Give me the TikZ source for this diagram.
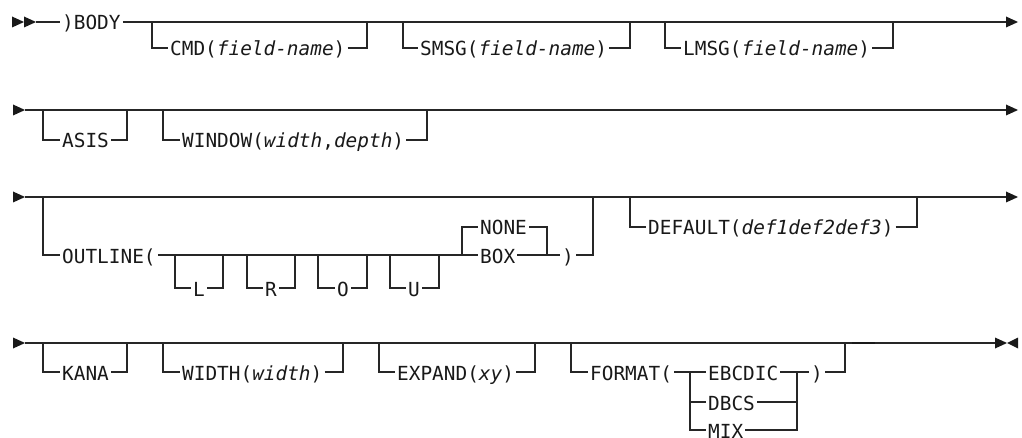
\documentclass[tikz,border=0pt]{standalone}
\usepackage{fontspec}
\setmonofont{DejaVu Sans Mono}
\tikzset{
  rr/.style={draw=black!85, line width=1.2pt},
  lbl/.style={inner xsep=2pt, inner ysep=0pt, text height=16pt, text depth=0pt,
    font=\fontsize{19.4}{20}\selectfont\ttfamily, text=black!90, anchor=west},
  tip/.style={fill=black!90},
}
% #1 name, #2 left x, #3 right x, #4 main y, #5 branch y, #6 text x, #7 text
\newcommand\optbr[7]{%
  \coordinate (#1L) at (#2,#4);
  \coordinate (#1R) at (#3,#4);
  \node[lbl] (#1) at (#6-2,#5) {#7};
  \draw[rr] (#1L) |- (#1.west) (#1.east) -| (#1R);}
\begin{document}
\begin{tikzpicture}[x=1pt,y=-1pt]
\useasboundingbox (0,0) rectangle (1022,438);
% ---------- row 1 ----------
\coordinate (s1) at (36,22);
\coordinate (e1) at (1006,22);
\node[lbl] (body) at (60,22) {)BODY};
\draw[rr] (s1) -- (body.west) (body.east) -- (e1);
\fill[tip] (12,16.5) -- (24,22) -- (12,27.5) -- cycle;
\fill[tip] (24,16.5) -- (36,22) -- (24,27.5) -- cycle;
\fill[tip] (1006,16.5) -- (1018,22) -- (1006,27.5) -- cycle;
\optbr{cmd}{152}{367}{22}{48}{170}{CMD(\textit{field-name})}
\optbr{smsg}{403}{630}{22}{48}{420}{SMSG(\textit{field-name})}
\optbr{lmsg}{665}{893}{22}{48}{683}{LMSG(\textit{field-name})}
% ---------- row 2 ----------
\coordinate (s2) at (25,110);
\coordinate (e2) at (1006,110);
\draw[rr] (s2) -- (e2);
\fill[tip] (13,104.5) -- (25,110) -- (13,115.5) -- cycle;
\fill[tip] (1006,104.5) -- (1018,110) -- (1006,115.5) -- cycle;
\optbr{asis}{43}{127}{110}{140}{62}{ASIS}
\optbr{window}{163}{427}{110}{140}{182}{WINDOW(\textit{width},\textit{depth})}
% ---------- row 3 ----------
\coordinate (s3) at (25,197);
\coordinate (e3) at (1006,197);
\draw[rr] (s3) -- (e3);
\fill[tip] (13,191.5) -- (25,197) -- (13,202.5) -- cycle;
\fill[tip] (1006,191.5) -- (1018,197) -- (1006,202.5) -- cycle;
\coordinate (olL) at (43,197);
\coordinate (olR) at (593,197);
\node[lbl] (outline) at (60,255) {OUTLINE(};
\coordinate (chA) at (462,255);
\coordinate (chB) at (547,255);
\draw[rr] (olL) |- (outline.west) (outline.east) -- (chA);
\optbr{bl}{175}{223}{255}{288}{193}{L}
\optbr{br}{247}{295}{255}{288}{265}{R}
\optbr{bo}{318}{367}{255}{288}{337}{O}
\optbr{bu}{390}{439}{255}{288}{408}{U}
\node[lbl] (none) at (478,227) {NONE};
\node[lbl] (box) at (478,255) {BOX};
\draw[rr] (chA) -- (box.west) (box.east) -- (chB);
\draw[rr] (chA) |- (none.west) (none.east) -| (chB);
\node[lbl] (cp1) at (560,255) {)};
\draw[rr] (chB) -- (cp1.west) (cp1.east) -| (olR);
\optbr{default}{630}{917}{197}{227}{648}{DEFAULT(\textit{def1def2def3})}
% ---------- row 4 ----------
\coordinate (s4) at (25,343);
\coordinate (e4) at (995,343);
\draw[rr] (s4) -- (e4);
\fill[tip] (13,337.5) -- (25,343) -- (13,348.5) -- cycle;
\fill[tip] (995,337.5) -- (1007,343) -- (995,348.5) -- cycle;
\fill[tip] (1018,337.5) -- (1007,343) -- (1018,348.5) -- cycle;
\draw[line width=2.4pt, black!90] (852,343) -- (875,343);
\optbr{kana}{43}{127}{343}{372}{62}{KANA}
\optbr{widthb}{163}{343}{343}{372}{182}{WIDTH(\textit{width})}
\optbr{expand}{379}{535}{343}{372}{397}{EXPAND(\textit{xy})}
\coordinate (fmL) at (571,343);
\coordinate (fmR) at (845,343);
\node[lbl] (format) at (588,372) {FORMAT(};
\coordinate (fa) at (690,372);
\coordinate (fb) at (797,372);
\draw[rr] (fmL) |- (format.west) (format.east) -- (fa);
\node[lbl] (ebcdic) at (706,372) {EBCDIC};
\node[lbl] (dbcs) at (706,402) {DBCS};
\node[lbl] (mix) at (706,430) {MIX};
\draw[rr] (fa) -- (ebcdic.west) (ebcdic.east) -- (fb);
\draw[rr] (fa) |- (dbcs.west) (dbcs.east) -| (fb);
\draw[rr] (fa) |- (mix.west) (mix.east) -| (fb);
\node[lbl] (cp2) at (809,372) {)};
\draw[rr] (fb) -- (cp2.west) (cp2.east) -| (fmR);
\end{tikzpicture}
\end{document}
